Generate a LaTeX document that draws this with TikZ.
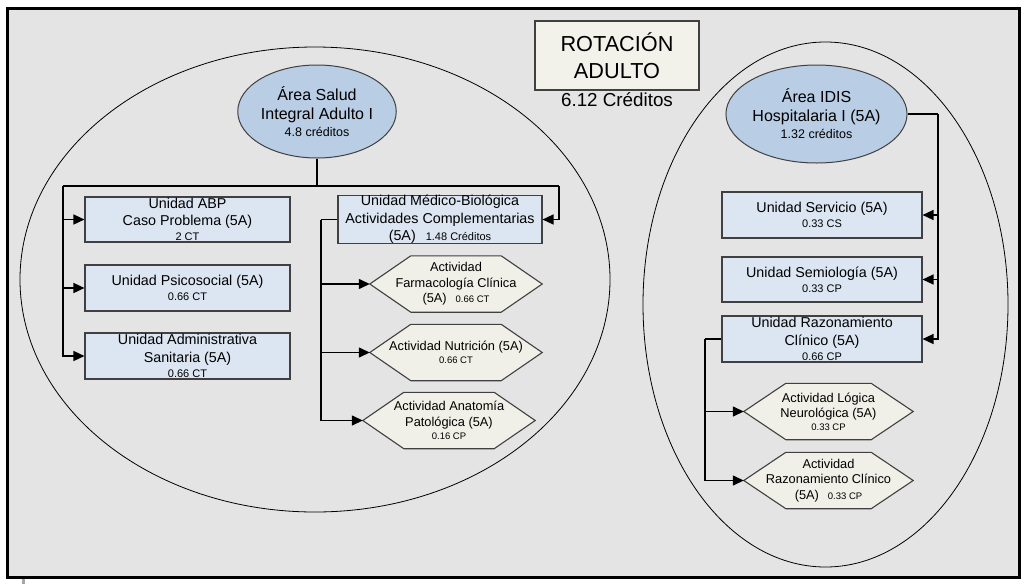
\documentclass[tikz,border=0pt]{standalone}
\usepackage{fontspec}
\setmainfont{Liberation Sans}
\usetikzlibrary{shapes.geometric,arrows.meta,calc}

\definecolor{sheet}{HTML}{E4E4E4}
\definecolor{areafill}{HTML}{B9CDE5}
\definecolor{unitfill}{HTML}{DCE6F2}
\definecolor{actfill}{HTML}{F0F0E8}
\definecolor{titlefill}{HTML}{F2F2EA}
\definecolor{edge}{HTML}{404040}

\pgfdeclarelayer{back}
\pgfdeclarelayer{hexl}
\pgfsetlayers{back,hexl,main}

\newcommand{\fs}[2]{\fontsize{#1}{#2}\selectfont}
\newcommand{\sm}{\fs{11}{13}}
\newcommand{\hsm}{\fs{9.5}{11}}

% hexagonal outline drawn behind an activity node
\newcommand{\hexoutline}[2][41]{%
  \begin{pgfonlayer}{hexl}
    \draw[hexline] ($(#2.north west)+(#1,0)$) -- (#2.west)
      -- ($(#2.south west)+(#1,0)$) -- ($(#2.south east)+(-#1,0)$)
      -- (#2.east) -- ($(#2.north east)+(-#1,0)$) -- cycle;
  \end{pgfonlayer}}

\begin{document}
\begin{tikzpicture}[x=1pt,y=-1pt,
  conn/.style={line width=1.4pt, draw=black},
  arr/.style={conn, -{Triangle[length=11pt,width=10pt]}},
  unit/.style={rectangle, draw=edge, line width=1.1pt, fill=unitfill,
    inner sep=0pt, align=center, font=\fs{14.3}{17.3}},
  area/.style={ellipse, draw=edge, line width=1pt, fill=areafill,
    inner sep=0pt, align=center, font=\fs{16}{19}},
  act/.style={rectangle, inner sep=0pt, minimum width=172pt,
    minimum height=56pt, align=center, font=\fs{12.8}{15.6}},
  hexline/.style={draw=edge, line width=1.1pt, fill=actfill},
  grp/.style={ellipse, draw=black, line width=0.8pt, inner sep=0pt},
  titlebox/.style={rectangle, draw=edge, line width=1.2pt, fill=titlefill,
    inner sep=0pt, align=center, font=\fs{21.7}{26.6}}]

\useasboundingbox (0,0) rectangle (1036,584);

% sheet and the two grouping ellipses
\begin{pgfonlayer}{back}
  \fill[gray!70] (21.5,578) rectangle (24.5,584);
  \draw[line width=3pt, fill=sheet] (7.5,8.5) rectangle (1019,577);
  \node[grp, minimum width=590pt, minimum height=465pt] (grpA) at (315,279.5) {};
  \node[grp, minimum width=365pt, minimum height=525pt] (grpB) at (825.5,304.5) {};
\end{pgfonlayer}

% title
\node[titlebox, minimum width=164pt, minimum height=69pt] (title) at (617,55.5) {ROTACIÓN\\ADULTO};
\node[font=\fs{18.8}{22}] (credits) at (617,100) {6.12 Créditos};

% areas
\node[area, minimum width=140pt, minimum height=93pt] (areaA) at (317,111.5)
  {Área Salud\\Integral Adulto I\\[-1.5pt]{\fs{12.5}{15}4.8 créditos}};
\node[area, minimum width=143pt, minimum height=98pt] (areaB) at (816.5,114)
  {Área IDIS\\Hospitalaria I (5A)\\[-2pt]{\fs{12.5}{15}1.32 créditos}};

% units, left area
\node[unit, minimum width=205pt, minimum height=45pt] (abp) at (187.5,219.5)
  {Unidad ABP\\Caso Problema (5A)\\[-2pt]{\sm 2 CT}};
\node[unit, minimum width=205pt, minimum height=46pt] (psico) at (187.5,288)
  {Unidad Psicosocial (5A)\\[-3pt]{\sm 0.66 CT}};
\node[unit, minimum width=205pt, minimum height=46pt] (admin) at (187.5,356)
  {Unidad Administrativa\\Sanitaria (5A)\\[-2pt]{\sm 0.66 CT}};
\node[unit, minimum width=204pt, minimum height=45pt] (medico) at (440,219.5)
  {Unidad Médico-Biológica\\Actividades Complementarias\\(5A)\hspace{10pt}{\sm 1.48 Créditos}};

% units, right area
\node[unit, minimum width=200pt, minimum height=46pt] (servicio) at (822,215)
  {Unidad Servicio (5A)\\[-2pt]{\sm 0.33 CS}};
\node[unit, minimum width=200pt, minimum height=45pt] (semio) at (822,279.5)
  {Unidad Semiología (5A)\\[-2pt]{\sm 0.33 CP}};
\node[unit, minimum width=200pt, minimum height=46pt] (razon) at (822,339)
  {Unidad Razonamiento\\Clínico (5A)\\[-2pt]{\sm 0.66 CP}};

% activities
\node[act] (farm) at (456,284)
  {Actividad\\Farmacología Clínica\\(5A)\hspace{9pt}{\hsm 0.66 CT}};
\node[act] (nutr) at (456,352.5)
  {Actividad Nutrición (5A)\\[-3pt]{\hsm 0.66 CT}};
\node[act] (anat) at (449,420.5)
  {Actividad Anatomía\\Patológica (5A)\\[-2.5pt]{\hsm 0.16 CP}};
\node[act, minimum width=169pt] (logic) at (828.5,411.5)
  {Actividad Lógica\\Neurológica (5A)\\[-3pt]{\hsm 0.33 CP}};
\node[act, minimum width=169pt] (razc) at (828.5,480.5)
  {Actividad\\Razonamiento Clínico\\(5A)\hspace{9pt}{\hsm 0.33 CP}};

\hexoutline{farm}
\hexoutline{nutr}
\hexoutline{anat}
\hexoutline[42]{logic}
\hexoutline[42]{razc}

% connectors, left area
\coordinate (lbus) at (63,186);
\coordinate (rbus) at (559,186);
\draw[conn] (areaA.south) |- (lbus);
\draw[conn] (areaA.south) |- (rbus);
\draw[arr] (lbus) |- (abp.west);
\draw[arr] (lbus) |- (psico.west);
\draw[arr] (lbus) |- (admin.west);
\draw[arr] (rbus) |- (medico.east);

\coordinate (mbus) at (321,219.5);
\draw[conn] (medico.west) -- (mbus);
\draw[arr] (mbus) |- (farm.west);
\draw[arr] (mbus) |- (nutr.west);
\draw[arr] (mbus) |- (anat.west);

% connectors, right area
\coordinate (ibus) at (938,114);
\draw[conn] (areaB.east) -- (ibus);
\draw[arr] (ibus) |- (servicio.east);
\draw[arr] (ibus) |- (semio.east);
\draw[arr] (ibus) |- (razon.east);

\coordinate (zbus) at (705,339);
\draw[conn] (razon.west) -- (zbus);
\draw[arr] (zbus) |- (logic.west);
\draw[arr] (zbus) |- (razc.west);

\end{tikzpicture}
\end{document}
